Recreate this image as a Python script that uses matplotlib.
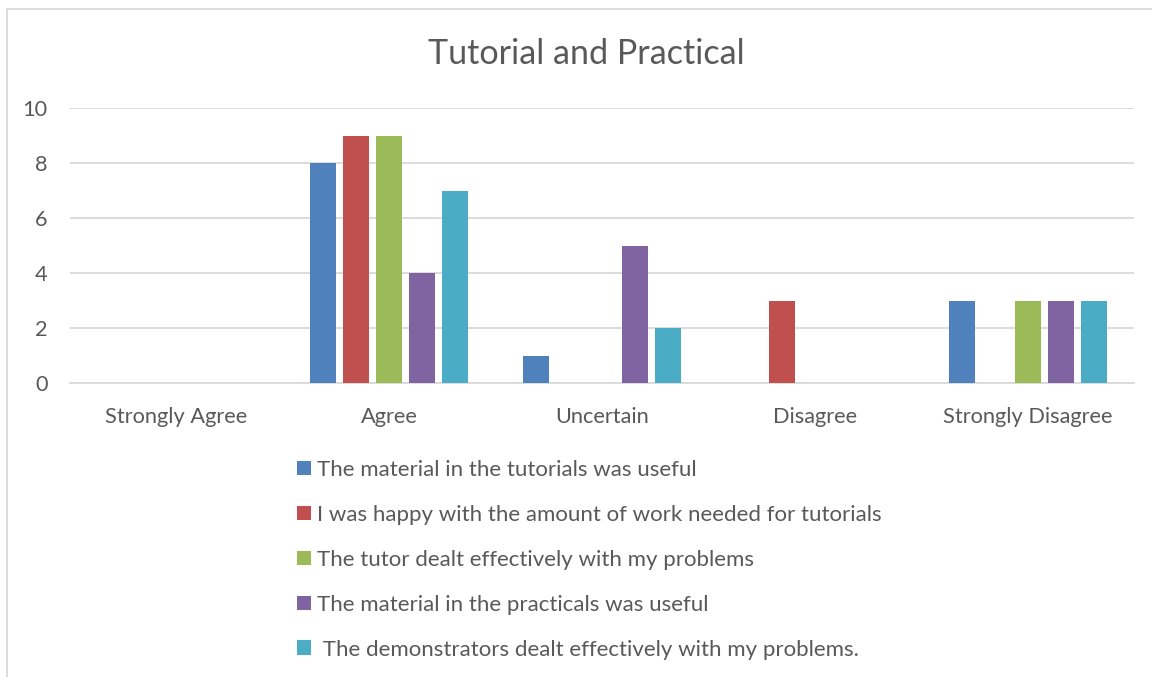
import matplotlib.pyplot as plt
from matplotlib.lines import Line2D
import numpy as np

plt.rcParams['font.family'] = ['Lato', 'DejaVu Sans']

categories = ['Strongly Agree', 'Agree', 'Uncertain', 'Disagree', 'Strongly Disagree']
series_names = [
    'The material in the tutorials was useful',
    'I was happy with the amount of work needed for tutorials',
    'The tutor dealt effectively with my problems',
    'The material in the practicals was useful',
    ' The demonstrators dealt effectively with my problems.',
]
tutorials_useful = [0, 8, 1, 0, 3]
work_amount = [0, 9, 0, 3, 0]
tutor_effective = [0, 9, 0, 0, 3]
practicals_useful = [0, 4, 5, 0, 3]
demonstrators_effective = [0, 7, 2, 0, 3]
series_values = [tutorials_useful, work_amount, tutor_effective,
                 practicals_useful, demonstrators_effective]
colors = ['#4f81bd', '#c0504d', '#9bbb59', '#8064a2', '#4bacc6']

text_color = '#595959'
grid_color = '#d9d9d9'

fig = plt.figure(figsize=(11.52, 6.77), dpi=100)
ax = fig.add_axes([70 / 1152, 1 - 383 / 677, (1134 - 70) / 1152, (383 - 108) / 677])

x = np.arange(len(categories))
step = 0.155
width = 0.122
for i, (vals, col, name) in enumerate(zip(series_values, colors, series_names)):
    ax.bar(x + (i - 2) * step, vals, width, color=col, label=name, zorder=3)

ax.set_xlim(-0.5, len(categories) - 0.5)
ax.set_ylim(0, 10)
ax.set_yticks(range(0, 11, 2))
ax.set_xticks(x)
ax.set_xticklabels(categories)
ax.tick_params(length=0, labelsize=15.7, colors=text_color)
ax.tick_params(axis='x', pad=17)
ax.tick_params(axis='y', pad=16)
ax.yaxis.grid(True, color=grid_color, linewidth=1.3, zorder=0)
for s in ['top', 'right', 'left']:
    ax.spines[s].set_visible(False)
ax.spines['bottom'].set_color(grid_color)
ax.spines['bottom'].set_linewidth(1.3)

fig.text(586 / 1152, 1 - 54 / 677, 'Tutorial and Practical', ha='center', va='center',
         fontsize=24.6, color=text_color)

fig.legend(loc='upper left', bbox_to_anchor=(277 / 1152, 1 - 440 / 677), frameon=False,
           fontsize=16, labelcolor=text_color, handlelength=0.63, handleheight=0.63,
           handletextpad=0.25, labelspacing=1.12)

# chart border (top and left edges visible in the crop)
fig.add_artist(Line2D([7 / 1152, 1], [1 - 9 / 677, 1 - 9 / 677], color=grid_color,
                      linewidth=1.3, transform=fig.transFigure))
fig.add_artist(Line2D([7 / 1152, 7 / 1152], [0, 1 - 9 / 677], color=grid_color,
                      linewidth=1.3, transform=fig.transFigure))

fig.savefig('out.png', dpi=100, facecolor='white')
